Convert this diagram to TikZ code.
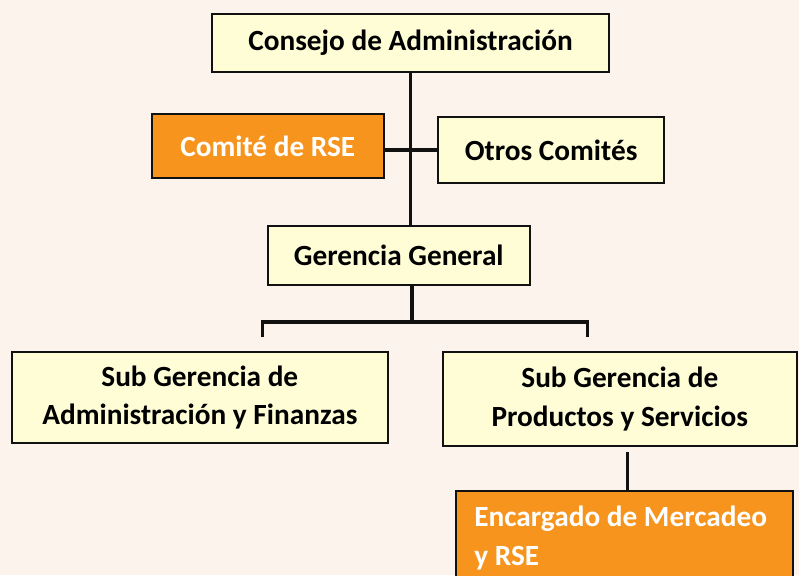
\documentclass[tikz,border=0pt]{standalone}
\usepackage{fontspec}
\setmainfont{Carlito}
\usepackage{tikz}
\usetikzlibrary{shapes,arrows}
\definecolor{bgColor}{HTML}{FBF3EC}
\definecolor{boxColor}{HTML}{FEFDD6}
\definecolor{rseColor}{HTML}{F7941D}
\definecolor{lineColor}{HTML}{111111}
\tikzstyle{yellowbox}=[rectangle, draw=lineColor, line width=1.2pt, fill=boxColor, text centered, align=center, inner sep=0pt, font=\fontsize{25}{33}\selectfont\bfseries]
\tikzstyle{orangebox}=[yellowbox, fill=rseColor, text=white]
\tikzstyle{connector}=[draw=lineColor, line width=2.6pt]

\begin{document}
\begin{tikzpicture}[node distance=3cm]
\useasboundingbox (-12.315,1.29) rectangle (11.655,-15.96);
\clip (-12.315,1.29) rectangle (11.655,-15.96);
\fill [bgColor] (-12.315,1.29) rectangle (11.655,-15.96);

\node (consejo) [yellowbox, minimum width=11.91cm, minimum height=1.74cm] {Consejo de Administración};

\node (comite) [orangebox, below of=consejo, xshift=-4.28cm, yshift=-0.09cm, minimum width=6.96cm, minimum height=1.92cm] {Comité de RSE};
\node (otros) [yellowbox, below of=consejo, xshift=4.22cm, yshift=-0.21cm, minimum width=6.78cm, minimum height=1.98cm] {Otros Comités};

\node (gerencia) [yellowbox, below of=consejo, xshift=-0.35cm, yshift=-3.375cm, minimum width=7.86cm, minimum height=1.77cm] {Gerencia General};

\node (subadm) [yellowbox, below of=gerencia, xshift=-5.97cm, yshift=-1.26cm, minimum width=11.28cm, minimum height=2.73cm] {Sub Gerencia de\\Administración y Finanzas};
\node (subprod) [yellowbox, below of=gerencia, xshift=6.63cm, yshift=-1.305cm, minimum width=10.62cm, minimum height=2.82cm] {Sub Gerencia de\\Productos y Servicios};

\node (encargado) [orangebox, below of=subprod, xshift=0.135cm, yshift=-1.17cm, minimum width=10.11cm, minimum height=2.82cm, text width=9.0cm, align=flush left] {Encargado de Mercadeo\\y RSE};

\coordinate (bar) at (0.045,-8.37);
\coordinate (barleft) at (-4.43,-8.37);
\coordinate (barright) at (5.3,-8.37);
\coordinate (dropleft) at (-4.43,-8.82);
\coordinate (dropright) at (5.3,-8.82);
\coordinate (prodtail) at (6.5,-12.27);

\draw [connector] (consejo.south) -- (consejo.south |- gerencia.north);
\draw [connector] (comite.east |- otros.west) -- (otros.west);
\draw [connector] (bar |- gerencia.south) -- (bar);
\draw [connector] (dropleft) -- (barleft) -- (barright) -- (dropright);
\draw [connector] (prodtail) -- (prodtail |- encargado.north);

\end{tikzpicture}
\end{document}
